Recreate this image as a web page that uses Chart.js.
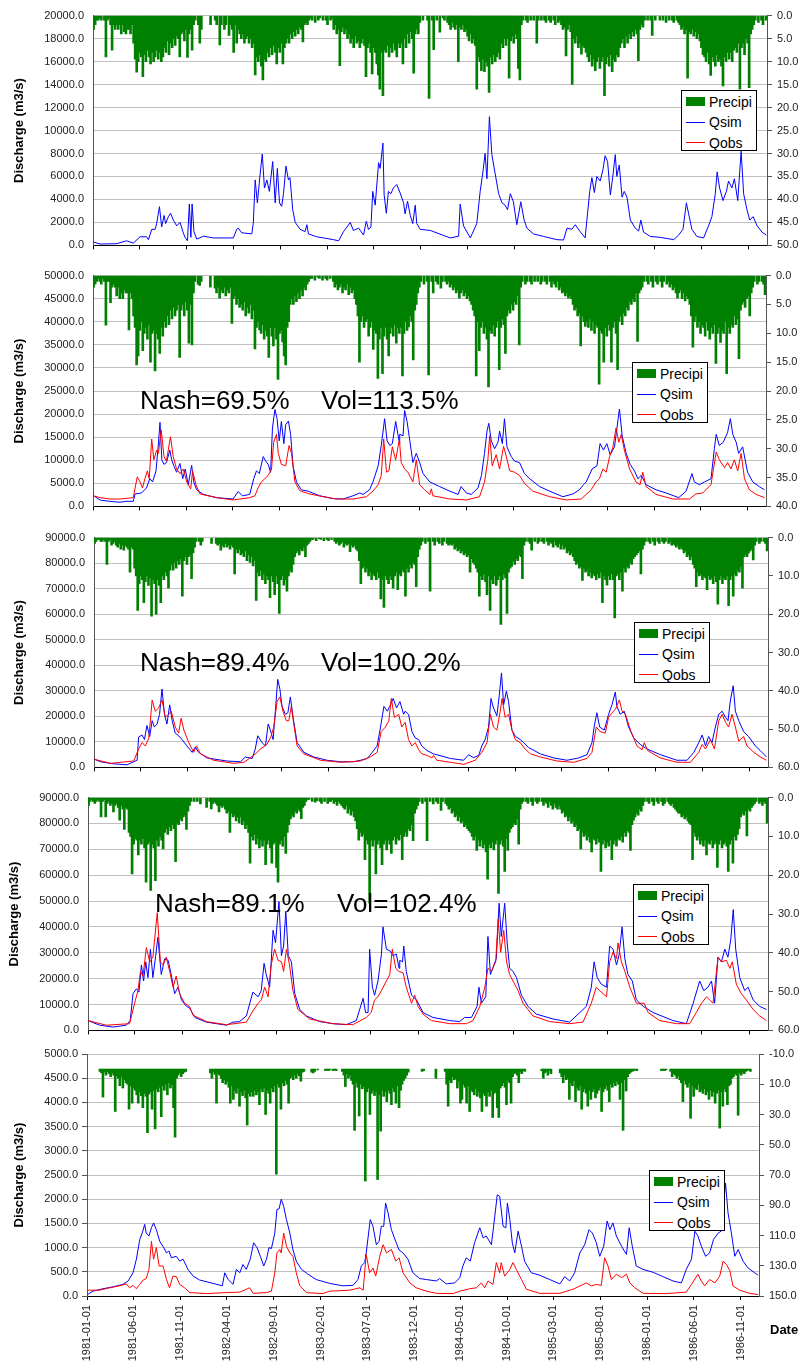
<!DOCTYPE html>
<html><head><meta charset="utf-8">
<script src="https://cdn.jsdelivr.net/npm/chart.js@4.4.1/dist/chart.umd.min.js"></script>
<style>
html,body{margin:0;padding:0;background:#fff;overflow:hidden;width:799px;height:1367px;}
body{position:relative;font-family:"Liberation Sans",Arial,sans-serif;}
.panel{position:absolute;left:0;width:799px;overflow:hidden;background:#fff;}
.panel canvas{position:absolute;left:0;}
.note{position:absolute;font-size:26px;line-height:26px;color:#000;white-space:nowrap;z-index:10;}
.lg{position:absolute;width:76px;height:61px;box-sizing:border-box;border:1px solid #000;background:#fff;z-index:10;}
.lg .row{position:absolute;left:0;width:74px;height:16px;line-height:16px;font-size:14px;color:#000;white-space:nowrap;}
.lg .sym{position:absolute;left:4px;width:19px;}
.lg .txt{position:absolute;left:27px;top:0;}
#date{position:absolute;left:770px;top:1322px;font-weight:bold;font-size:13px;line-height:15px;color:#000;z-index:10;}
</style></head>
<body>
<div class="panel" style="top:0;height:256px"><canvas id="c1" width="830" height="261" style="top:0"></canvas></div>
<div class="panel" style="top:256px;height:261px"><canvas id="c2" width="830" height="262" style="top:4px"></canvas></div>
<div class="panel" style="top:517px;height:260px"><canvas id="c3" width="830" height="261" style="top:5px"></canvas></div>
<div class="panel" style="top:777px;height:260px"><canvas id="c4" width="830" height="264" style="top:5px"></canvas></div>
<div class="panel" style="top:1037px;height:330px"><canvas id="c5" width="830" height="325" style="top:5px"></canvas></div>
<div id="notes"></div>
<div id="date">Date</div>
<script>
// ---------- DATA ----------
const tickLabels = ['1981-01-01','1981-06-01','1981-11-01','1982-04-01','1982-09-01','1983-02-01','1983-07-01','1983-12-01','1984-05-01','1984-10-01','1985-03-01','1985-08-01','1986-01-01','1986-06-01','1986-11-01'];
const rainStepDays = 5; // precipitation read in 5-day bins starting 1981-01-01

// Precipitation (mm), one value per 5-day bin
const p1Rain = [
3,2,1,1,0.5,1,0,1,9,1,0.5,2,7.5,2,3,2,3,2,4,2,3.5,4,3,3,4,2,
6,9.5,12.3,10,8,9,13.3,8.5,10,7.5,9,10.5,8,10,9,7.5,9.5,8,10,9,7,8,5.5,8.5,6,7,5,6.5,4.5,5,9,4,3.5,5.5,3,9.1,4,3,7.5,2,1,
0,2,6,3,0,0,0,0,0,2,0,0,1,2,0,6.4,2,0,3,2,0,4.3,2,3,8,2,6,3,4,
5,4,6,5,4.5,6,5,7,6,12.9,9,10,8.5,11,14,9.5,10,8,9,7,8.5,6.5,8,10.5,7,8,6,10.5,7,6,5,6,4,5,3.5,4.5,3,4,2.5,3,5.7,2,1.5,2,1,0.5,
1,0,1.5,0,1,0.5,0,1,0,1,2,0,1,0.5,
3,2,4,3,10.9,3.5,2.5,4,3,5,4,6,5,7,4.5,6,5.5,7,6,5,6.5,13.3,7,6,8,12.7,7,8,10.5,12.9,16,8,17.4,7.5,8,6.5,9,7,8,6,7.5,9,6,7,6,10.5,5,7,4,6,3.5,5,12.5,4,3,4,1.5,
0,1,0,0,1,18,0,1,7.4,0,1,0,3.6,0,0.5,1,0,1.5,
2,3,1.5,2.5,3,2,10,2.5,3,2,3.5,3,4.5,5.5,4,6,5,6.5,16,9,10,12,9.5,12.2,10,11,16.7,9,10.5,8.5,10,9,8,9.5,6,7,5,6.5,5,13.6,5.5,4.5,6,4,5,11.5,14,2,
1,0,1,1.5,0,1,0,1,0,6,1,0,1,0,1,1.5,0,1,1.5,0,1,2,0,1.5,1,
2,3,2.5,8.8,3,2,3.5,15,5,6,4.5,7,6,8.4,6.5,7,8,9,10,8.5,11,9.5,12,10,9,11.5,10,9,17.4,10.5,9,11,8.5,12.2,9.5,10,8.5,9,7,6,5,7,4.5,6,4,5,3.5,4.5,3,4,9.8,3,2,2.5,1,
0,1,0,1,4.3,0,1,0,0,1,0,1,0,1.5,0,1,0,1,1.5,0,1,1.5,
2,3,2.5,4,3,13.6,3.5,4,3,4.5,3.5,5,4,5.5,7,8.5,9,10,8,10.5,13,9,10,11,8.5,10,9.5,11,15.3,9,10,8,9.5,8,10,7.5,7,8,6,16,7,6,8.5,5,6,15.7,4,3,2,
1,0,1.5,0,1,2,0,1];
const p2Rain = [
2,1.5,1,0.5,1,1.5,0.5,1,8.6,1,1,4.7,2,1.5,2,3.5,2,4,3,4,2.5,3,3,9.4,3,4,
7,9,15.5,13.9,9.5,8,13,10,9,11,8.5,15,10,9.5,16.5,10,11,13.5,9,10.5,8,9,7,8.5,6,7.5,5.5,7,6,5,14.2,6,5,7,4.5,6,11.7,5,12,3,1,
0,1.5,1.7,1,0,0,0,0,0,2,0,0,2.2,3,2,3.9,2.5,3,2,3.5,2.5,3,2,8.3,4,3.5,5,4,5.5,
5,6,4.5,7,5.5,6.5,5,7.5,6,12.7,9,8,9.4,10,8.5,11,9.5,10.5,14.2,9,10.5,12.2,9,11,18,10,9.5,11.5,13.9,15.5,9,8,5,4,5,3.5,4.5,3,4,2.5,3.5,2,2.5,1.5,1,0.5,
0.5,0,0.8,0,0.3,0.5,0,0.8,0,0.5,0.8,0,0.5,0,
1,2,1.5,2.5,2,1.5,3,2,2.5,1.5,3.3,2,3,2.5,4,5,7,15,8,7,9,8,7.5,10.5,9,8,12.8,9.5,10,17.8,11,9,17,10.5,9,11,13.9,10,9,10.5,8.5,11.7,9,10,9,17.4,10,8,9.5,8.9,7,8,14.6,6,5,3,2,
1,0,1.5,0,1,17.2,0,1,3,0,1,1.5,0,2.2,1,0,1,1.5,
1,2,1.5,2.5,2,3,2.5,3.9,3,2.5,3.5,3,4,3.5,4.4,5,6,7,17.4,8,13,9,8,10,9,11,19.3,9.5,10,8.5,10.5,9,8,16.3,9,7.5,8.5,13.5,7,6,6.5,5,6,4.5,5,3.5,12,2,
1,0,1.5,1,0,1,1.5,0,1,0,1,0,1.5,1,0,1,1.5,0,1,2,1,1.5,2,1,2.5,
2,3,2.8,3.5,3,3.9,3.5,4,5,6,5.5,7,6.5,12.2,7,8,8.8,8,9,7.5,9.5,8,10,8.5,9,18.8,9.5,10,15,9,10.5,8.5,9.5,15,9,8,10,16.3,8,7,8.5,6.5,7,5.5,6,4.5,5,4,4.5,3,11.4,3,2.5,2,1,
0,1,1.5,0,1,2,0,1,1.5,0,1,2,1,0,1.5,1,2,1.5,2.5,2,3,3.9,
3,2.5,4,3,4.4,3.5,4,5,7,12.4,8,7,9,8,10,8.5,9,10.5,8,9.5,11,9,10,8.5,15.2,10,9,11.6,9.5,10,8,17,9,10,8.5,9,7,8.5,7.5,14.4,6,5,4.5,5.5,4,3.5,7,3,2,
1,0,1.5,1,0,1,1.5,3.3];
const p3Rain = [
1.5,1,0.5,0.5,1,1,0.5,1,7,1,0.5,2,1.5,1,2,2.5,1.5,3,2,3.3,2,2.5,3,9,2.5,3,
8,10,19,12,10,11,17,11.5,10,12.5,10.5,20.5,11,12,20,11,12.5,17,10,11,9,10,13.2,8.5,7,8.5,6.5,8,6,7,5.5,15.3,6,5,7,5,4.5,10.7,4,2.5,1,
0,1,2,1,0,0,0,0,0,1.5,0,0,1.5,2,1.5,3.3,2,2.5,1.5,2.5,2,3,2,2.5,9.5,3,4,3,4.5,
4,5,3.5,6,4.5,6.5,5,7.4,6,16.4,9,10,8.5,11,9.5,12,10,11,15.7,10,11.5,14.9,10,12,19.8,11,10,12.4,11,14,10,8.5,9,7,5,4,3.5,4.5,3,3.5,2.5,5,2,1.5,1,0.5,
0.5,0,0.8,0,0.3,0.5,0,0.8,0,0.5,0.8,0,0.5,0,
1,1.5,1,2,1.5,1,2.5,1.5,2,1.5,3.7,2,2.5,2,3,3.5,6,12,8,7.5,9,8,10,9,11,9.5,10,11,9,10.5,16,11,18.2,10,11,12,10,11,13.2,10,9,13.6,9.5,10,8.5,9,15.3,8,9,7,8,6.5,7,12.8,5,3,2,
1,0,1.5,0,1,14,0,1,2,0,1,1.5,0,2,1,0,1.5,2,
1.5,2,1.5,3,2.5,3.5,3,4,3.5,4.5,4,5,4.5,9,5.5,6.5,7,8,9,15.3,10,11,9.5,11.5,14.9,10,19,11,12,10,12.5,11,10,22.7,11,9.5,10.5,19.8,9,8,7.5,6,7,5.5,6,4.5,5,10.7,
2,1,0,1,1.5,3.3,0,1,0,1.5,1,0,1,1.5,0,1,2,1,1.5,2.5,1,2,2.5,1.5,3,
2,3,2.5,4,3.5,4.5,4,5,6,7,6.5,8,7.5,11.2,8,9,8.5,10,9,10.5,9.5,10,11,9.5,10.5,9,17,10,11,12.4,10,11,9.5,11,21,10,9.5,11,9,14,8,9,7.5,8,6.5,7,5.5,5,4.5,4,3.5,9.5,3,2,1,
0,1,1.5,0,1,2,0,1,1.5,0,1,1.5,1,0,1.5,1,2,1.5,2,2.5,2,3,
2.5,3,4,3.5,5,4.5,5.8,5,7,8,12.8,9,10,9.5,11,10,10.5,13.6,10,11,10.5,12,10,11.5,17.4,11,10,12,10.5,11,10,17.8,11,10,15.3,9.5,10,8.5,9,7.5,13.2,5,4.5,5,4,3.5,3,5.8,2,
1,0,1.5,1,0,1,1.5,3.5];
const p4Rain = [
2,1,0.5,1,1.5,1,0.5,1,5,1,0.5,5,1.5,1,2,1.5,3.7,2,1.5,2.5,5.8,2,3,8.2,2.5,3,
9,10,19.7,12,10.5,11,14.8,11,12,10.5,13,21.8,12,11.5,23.9,12,13,21.4,11,12.5,10,11,13.2,9,8,9.5,7.5,8.5,7,8,16.5,6.5,7,5.5,6,5,4.5,8.2,3.5,2,1,
0,1,0,1,0,1.6,0,0,0,2.5,0,1,2.9,1.5,1,1.5,2,3.7,2,2.5,2,3,4,3.5,9,4,5,4.5,6,
5,6.5,5,7,6,8,7,9,16.9,10,11,9.5,12,10.5,13,11,12.5,11,17.3,12,11,13,16.9,12,11.5,18,21.8,12,11,12.5,10,14.4,9,7,5.5,4.5,5,3.5,4,3,3.5,5.4,2.5,2,1,0.5,
0.5,0,1,0,1.2,0.8,0,1,1.5,0,1,0,1.5,1,
1,0.5,1.5,1,2,1,1.5,2,2.5,3,2,4,3,4.5,3.5,5,6,8,11,9,10,9.5,16,11,12,27.2,11,12.5,11,19.7,12,11,13,17.3,12,11,13.5,11,12,14.4,11,10,12,10.5,11,9.5,16,10,9,10,8,8.5,7,11.1,4,3,2,
1,0,1.5,0,1,11.1,0,1,0,1.6,0,1,1.5,0,3.3,1,0,1.5,
2,3,2.5,4,3.5,5,4.5,6,5,6.5,6,7.5,7,8,8.5,9,10,11,10,13.6,11,12.5,11,13,12,14,21,12,13,11.5,13.5,12,11,24.7,12,11,12.5,19,10.5,13.6,9,8,7.5,6.5,7,5.5,12,3,
1.5,1,0,1,1.5,0,1,2,0,1,1.5,1,0,1,2,1,1.5,2.5,1,2,3,1.5,2.5,3,2,
3,4,3.5,5,4.5,6,5,6.6,6,7.5,7,8.5,8,13.2,9,10,9.5,11,10,11.5,14,10.5,11,12,10.5,11.5,19,12,11,13,11.5,12.5,11,16,12,11,12.5,10.5,11,10,11.5,9,10,8.5,9,13.6,7,5.8,5,4,4.5,3,3.5,2,1,
0,1,1.5,0,1,2,0,1,1.5,0,1,2,1.5,0,1,1.5,2,1.5,2.5,3,3.5,4,
4,5,4.5,5.5,5,6,6.6,7,16,9,10,11,10,12,11,12.5,11,14.8,11.5,12,11,13,12,11.5,18,12,11,13,12,11.5,12.5,19,12,11,16.9,10,11,9.5,8,5,4,4.5,3.5,9.9,3,3.5,2.5,2,1.5,
1,0,1.5,1,2,1,1.5,6.6];
const p5Rain = [
0,0,0,0,0,0,0,0,1.5,2.5,18.5,2,4,1.5,3,5,2.5,4,28,4.5,6,11,5,12.5,7,9,
10,26.5,11,22.5,12.5,14,17,22.5,15,17.5,25.5,16,18,42,16.5,15,26.5,14,39.5,13,15,12,31.5,11,14,10,17,9,12.5,10,25.5,45,6,4,2.5,5,3,2,1.5,0,0,
0,0,0,0,0,0,0,0,0,0,0,0,0,2.5,6,2,3.5,22.5,3,4,6,9,7,10,8,12,22.5,11,20,
14,16,12.5,24.5,15,17.5,14,19,37,16,18,15,18,14,17,15,23.5,13,15,12,30,14,16,22.5,12.5,15,11,69.5,10,12,26.5,9,11,7.5,10,22.5,6,5,7,4,6,3,4.5,8,2,1.5,
0,0,0,0,2,2.5,1.5,0,0.5,0,0,0,0,1,
0.5,1,0.5,0,1,0.5,1,0,0,0,1.5,4,11.5,3,6,4,7.5,10,40.5,9,12,31,10,13,11.5,74,15,12.5,30,16,14,17.5,15,73,17,41,14,18,15,21.5,14,16,23.5,12.5,15,22.5,11,25.5,14,10,7.5,6,4,2,0,0,0,
0,0,0,0,0,1.5,1,0,0,0,0,0,0,0,6,0,0,0,
0,0,1.5,10,24.5,7.5,9,5,7,6,12.5,8,22.5,20,10,12,22.5,11,28,14,15,17,13,18,15,19,28,16,17.5,24.5,15,18,14,32,16,15,25.5,32,12.5,11,9,12,23.5,7.5,9,22.5,5,3,
2.5,4,9,2,3,1,1.5,0,0,0,0,0,0,0,0,0,0,1,6,2.5,1.5,4,1,3,0,
0,0,0,0,2.5,5,9,4,7,6,20,9,11,7.5,21.5,12,14,11,26.5,15,13,16,24.5,14,20,15,13,19,16,14,12,28,15,13,11,14,21.5,10,12,9,11,8,10,20,9,40.5,7,14.5,5,3,2,1.5,1,0.5,1,
0,0,0,0,0,0,0,0,0,0,0,0,0,0,0,1,0.5,1,0.5,0,0,1.5,
5,3,4,6,4.5,7,9,21.5,7.5,10,12,9,32.5,11,18,12.5,13.5,10,15,14,16,13,17,15,20,14,18,15,22.5,16,14,39,15,24.5,13,15,23.5,11,10,6,5,3,4,30.5,2.5,4,2,3,1.5,
1,0.5,1.5,0,0,0,0,0];

// Discharge (m3/s): [day since 1981-01-01, value]
const p1Qsim = [[1,300],[23,120],[77,150],[109,400],[131,200],[153,750],[174,750],[180,500],[191,1400],[202,1400],[207,1930],[216,3370],[223,1600],[231,2600],[236,1900],[245,2500],[252,2800],[261,2200],[272,1700],[283,2000],[292,1200],[299,700],[307,400],[313,3600],[318,700],[322,3600],[328,1200],[337,550],[359,800],[391,650],[456,650],[467,1400],[472,1500],[483,1100],[516,1000],[521,2000],[527,5700],[534,3700],[543,6200],[550,7950],[557,5000],[565,5700],[573,4700],[584,7300],[592,3700],[599,6700],[606,3700],[613,3400],[619,4500],[627,6900],[635,5700],[640,5900],[649,3100],[657,2000],[673,1400],[689,1200],[695,1800],[700,1000],[727,750],[781,500],[798,400],[814,1200],[836,2000],[846,1300],[863,1500],[879,900],[888,2100],[895,1400],[903,1600],[909,4700],[917,3500],[928,7200],[933,6700],[942,8900],[946,4400],[953,2800],[960,4700],[968,4500],[976,5000],[987,5300],[998,4560],[1009,3720],[1014,2750],[1022,3840],[1031,2600],[1039,1900],[1047,3500],[1052,1900],[1063,1400],[1096,1300],[1161,650],[1188,800],[1193,3600],[1204,1700],[1226,650],[1247,1900],[1258,4700],[1267,6400],[1274,8000],[1280,5800],[1288,11200],[1296,7900],[1307,6200],[1318,4500],[1329,3700],[1339,3500],[1347,3100],[1356,4500],[1366,3800],[1377,1800],[1390,3800],[1401,2200],[1410,1500],[1431,1000],[1464,780],[1507,500],[1529,470],[1540,1500],[1556,1400],[1567,1800],[1583,1200],[1599,650],[1614,4700],[1621,5900],[1629,4600],[1637,6000],[1648,5600],[1657,6600],[1664,7800],[1672,7300],[1681,4400],[1689,6000],[1697,7900],[1702,6000],[1710,7000],[1719,4200],[1726,4700],[1735,4200],[1746,2200],[1762,1500],[1773,1250],[1780,2200],[1789,1150],[1811,780],[1843,700],[1887,500],[1903,900],[1917,1400],[1928,3700],[1935,2800],[1946,1400],[1962,780],[1984,650],[2000,1700],[2011,2500],[2022,4500],[2028,6400],[2036,5000],[2047,3900],[2058,4700],[2065,5600],[2076,5000],[2084,5800],[2095,3900],[2106,8200],[2114,4500],[2125,3100],[2134,2200],[2145,2500],[2158,1700],[2174,1150],[2188,900]];

const p2Qsim = [[3,2260],[23,1370],[55,1100],[88,900],[109,1100],[131,1100],[137,2700],[158,2900],[174,4000],[185,6000],[194,5300],[205,7700],[212,12900],[218,18200],[224,10100],[231,9100],[239,9500],[250,12200],[256,10100],[263,8800],[272,7400],[283,9300],[292,6000],[300,8100],[310,4700],[321,8900],[328,5300],[337,3600],[359,2600],[402,1900],[456,1600],[472,3200],[487,2300],[510,2600],[523,6000],[532,7700],[541,7100],[554,10800],[562,9800],[570,9100],[578,7400],[584,17000],[592,21000],[599,19000],[606,14200],[613,18400],[621,13600],[627,17700],[636,18500],[643,15600],[651,8800],[662,5300],[678,3600],[700,3300],[738,2300],[781,1700],[814,1600],[846,2300],[868,2900],[879,2600],[900,3600],[911,5300],[928,8800],[938,13200],[949,19000],[957,14200],[966,13200],[974,13600],[985,18400],[996,14200],[998,15600],[1009,15300],[1014,20800],[1022,18400],[1031,14200],[1041,9500],[1052,11500],[1063,9500],[1074,7100],[1096,5300],[1128,4300],[1161,3300],[1188,2600],[1198,4300],[1215,2900],[1231,2600],[1253,4000],[1264,6700],[1274,11500],[1282,16300],[1288,18000],[1296,14200],[1307,12500],[1318,13900],[1323,16300],[1332,13600],[1339,19000],[1347,12900],[1361,10800],[1372,9800],[1388,9500],[1404,7100],[1421,6000],[1453,4300],[1486,3300],[1529,2100],[1562,2700],[1583,3600],[1596,4700],[1605,5300],[1624,8100],[1640,8800],[1650,13600],[1661,12200],[1672,13600],[1683,11200],[1697,12900],[1705,17000],[1713,21100],[1722,15300],[1735,11500],[1748,9100],[1762,7700],[1773,6000],[1784,6700],[1800,4700],[1832,3600],[1865,2900],[1906,1900],[1930,3300],[1949,7100],[1957,5300],[1973,4700],[1990,5300],[2011,6000],[2022,12500],[2028,15600],[2038,13200],[2051,13900],[2065,16000],[2074,19000],[2082,15600],[2093,13900],[2101,11500],[2114,12900],[2130,7400],[2147,5300],[2168,4300],[2185,3600]];
const p2Qobs = [[3,2260],[23,1900],[55,1600],[88,1600],[131,1900],[144,6400],[153,5300],[161,4000],[169,6000],[177,7700],[183,6000],[191,14600],[198,10100],[207,12200],[213,11500],[222,16600],[231,10800],[239,9800],[252,15100],[261,10800],[272,8100],[283,7100],[294,8100],[305,5300],[318,3800],[324,7700],[335,4700],[348,2700],[402,1900],[456,1400],[510,1900],[527,2300],[537,4000],[548,5300],[559,6000],[570,6700],[581,8100],[588,13900],[597,15600],[603,11500],[613,9100],[627,8800],[638,13200],[646,11500],[657,5300],[673,3400],[705,2700],[749,2100],[792,1600],[846,1600],[890,2100],[911,3300],[928,4700],[938,6700],[946,14600],[955,7400],[963,7700],[974,12900],[985,10100],[996,14200],[998,13600],[1003,9500],[1014,8100],[1025,7400],[1041,5300],[1052,10100],[1063,4700],[1079,3600],[1096,2600],[1101,3800],[1106,2300],[1161,1600],[1215,1400],[1258,2100],[1274,5300],[1285,10100],[1291,15300],[1299,8800],[1312,11200],[1323,8100],[1336,13000],[1345,10800],[1356,7700],[1372,7400],[1388,6700],[1404,5000],[1431,3300],[1486,2100],[1540,1400],[1589,1600],[1605,2600],[1621,3600],[1637,5300],[1648,6000],[1659,8100],[1670,7400],[1681,10800],[1692,12900],[1702,17000],[1711,13900],[1719,15600],[1729,12200],[1746,8100],[1767,5300],[1780,4700],[1789,7400],[1800,4300],[1832,2600],[1887,1600],[1941,1600],[1962,2700],[1984,2900],[2011,4700],[2028,11800],[2038,10100],[2055,8400],[2065,9500],[2076,8100],[2087,10100],[2098,7700],[2109,11500],[2120,6000],[2136,3600],[2158,2600],[2185,1900]];

const p3Qsim = [[1,3200],[21,2200],[64,1400],[107,1000],[129,2200],[140,2800],[145,11900],[156,12700],[164,10900],[172,16400],[181,12100],[189,18300],[196,15800],[205,17000],[213,20800],[221,30700],[229,20800],[237,17000],[246,24500],[254,18300],[264,13400],[275,12400],[286,10900],[302,8400],[319,5900],[329,8000],[340,5900],[367,3700],[432,2500],[476,2200],[492,4100],[514,3500],[524,7200],[532,12400],[546,9700],[557,8400],[566,17000],[573,14600],[582,10900],[590,23300],[597,34500],[604,30700],[611,23900],[622,20800],[630,21400],[638,27600],[647,19600],[660,9700],[682,5900],[714,4100],[757,2800],[801,2200],[844,2200],[866,2800],[888,3500],[904,5900],[920,8400],[931,15800],[942,23900],[953,22000],[961,23900],[972,27000],[983,23300],[994,25800],[1006,20800],[1011,22000],[1022,20800],[1033,14000],[1044,11500],[1055,10900],[1065,8400],[1082,6600],[1103,5300],[1158,3500],[1201,2800],[1217,5000],[1233,3800],[1250,4700],[1260,8400],[1271,10900],[1282,15800],[1290,27000],[1298,23300],[1309,20200],[1317,28300],[1324,37000],[1331,24500],[1340,29900],[1347,25800],[1358,14600],[1369,12200],[1385,10900],[1396,9700],[1412,7800],[1450,5300],[1494,3700],[1537,2800],[1575,3700],[1602,5000],[1618,9700],[1626,16500],[1634,21400],[1643,15800],[1658,14600],[1672,20800],[1683,24500],[1694,29500],[1699,23900],[1710,20800],[1723,22000],[1737,15800],[1754,11500],[1775,9000],[1797,7200],[1840,5000],[1894,2800],[1927,2800],[1949,5900],[1965,9700],[1976,12700],[1987,8400],[1997,12100],[2008,9700],[2019,15800],[2030,20800],[2041,22000],[2052,19600],[2060,18300],[2068,26400],[2077,32000],[2084,22000],[2095,18300],[2111,14000],[2127,12100],[2149,8400],[2165,6600],[2185,4100]];
const p3Qobs = [[1,3200],[53,1600],[129,2500],[145,7200],[156,9700],[167,8400],[178,11500],[189,26400],[199,22000],[210,23300],[221,26400],[232,19600],[243,20800],[251,22000],[264,15800],[275,13400],[283,19300],[292,14600],[308,9700],[324,5900],[333,8400],[346,5300],[389,2800],[454,1600],[487,2000],[519,4700],[541,7200],[562,9000],[575,12100],[584,15800],[595,25800],[604,27600],[614,22000],[625,18300],[633,18300],[641,23900],[649,17000],[660,8400],[682,5300],[736,2800],[801,2000],[866,2500],[898,4100],[920,5900],[933,14000],[947,15800],[958,18300],[966,27000],[976,19600],[990,20800],[1000,15800],[1011,17700],[1022,10900],[1033,8400],[1044,9700],[1055,6900],[1065,5300],[1082,4700],[1098,3700],[1103,4700],[1114,2800],[1158,2000],[1201,1200],[1239,2800],[1260,5900],[1277,9700],[1288,20800],[1298,15800],[1309,14600],[1320,22000],[1326,27000],[1336,19600],[1347,20800],[1358,14600],[1369,10900],[1385,9700],[1401,7200],[1418,5300],[1450,4100],[1504,2500],[1559,2000],[1602,3500],[1618,5900],[1632,15800],[1645,14000],[1661,13400],[1672,19600],[1683,21400],[1694,22700],[1707,26400],[1716,22000],[1727,20800],[1743,14600],[1764,8400],[1781,6900],[1788,9700],[1799,6600],[1840,3700],[1894,2000],[1938,2000],[1965,5900],[1976,9000],[1987,7200],[2003,10900],[2016,7200],[2030,18300],[2041,20800],[2052,17700],[2062,15800],[2073,20800],[2084,15800],[2095,10300],[2111,12100],[2122,8400],[2144,5900],[2165,4100],[2185,2800]];

const p4Qsim = [[0,3800],[38,2000],[81,1300],[123,2000],[136,3800],[145,14200],[156,16100],[164,14800],[172,25300],[179,19100],[186,26500],[193,20400],[201,31400],[209,20400],[218,28900],[225,36000],[236,21600],[247,27700],[258,27100],[268,21600],[279,14200],[290,16700],[301,11800],[317,9300],[327,8700],[344,5000],[381,3200],[446,2000],[467,3200],[488,3400],[510,5600],[531,14800],[548,13000],[558,15400],[567,25900],[574,21600],[585,16700],[596,38700],[604,33800],[615,49800],[623,28900],[630,32600],[637,46100],[645,28900],[655,26500],[666,14200],[682,8100],[703,5600],[746,3400],[789,2600],[832,2200],[864,3800],[886,12400],[894,6900],[902,6900],[907,31400],[916,16700],[923,13600],[934,19100],[945,29500],[950,40000],[961,31400],[972,30800],[982,28900],[993,29500],[1002,24000],[1004,27100],[1013,26500],[1017,32600],[1025,22800],[1042,13600],[1058,11800],[1079,6900],[1111,5000],[1165,3800],[1197,3400],[1213,5000],[1235,5000],[1253,9300],[1259,16700],[1267,10500],[1281,13000],[1288,36300],[1296,21600],[1305,24600],[1315,27700],[1324,49200],[1331,36300],[1342,49200],[1350,33800],[1358,24000],[1369,22800],[1380,20400],[1396,13600],[1417,9300],[1444,6300],[1498,4400],[1551,3200],[1584,6900],[1605,9300],[1621,16700],[1630,26500],[1640,20400],[1653,17900],[1670,16700],[1680,32600],[1691,31400],[1702,25300],[1710,28900],[1720,40000],[1729,27700],[1739,21600],[1753,19100],[1766,11800],[1788,9300],[1820,6900],[1884,3800],[1927,2600],[1949,10500],[1970,19100],[1983,15400],[1997,16700],[2008,19100],[2018,10500],[2029,28300],[2040,26500],[2051,31400],[2061,28300],[2070,35000],[2078,46700],[2086,31400],[2099,20400],[2115,15400],[2126,16700],[2142,11800],[2163,9300],[2185,8100]];
const p4Qobs = [[0,3800],[59,2000],[134,2600],[150,10500],[161,15400],[169,22800],[177,21000],[188,32000],[199,26500],[209,28300],[223,45500],[233,26500],[242,25300],[252,28300],[263,22800],[274,16700],[284,21000],[295,14200],[311,10500],[327,9300],[338,5900],[381,3400],[446,2200],[510,3200],[531,7500],[548,10500],[558,11800],[569,16700],[580,13000],[590,25300],[601,31400],[612,27100],[623,26500],[630,22800],[639,31400],[649,25300],[660,15400],[676,8100],[714,4400],[789,2600],[853,2200],[896,5000],[912,6900],[923,11800],[934,13000],[945,15400],[961,19100],[972,21600],[980,31400],[991,24000],[1002,22800],[1004,22800],[1015,22200],[1025,16700],[1042,10500],[1052,13600],[1063,9300],[1079,6300],[1106,3800],[1165,2600],[1219,2600],[1240,3800],[1262,9300],[1278,16700],[1288,24000],[1299,22800],[1313,26500],[1321,43000],[1329,30200],[1339,38700],[1348,26500],[1358,21600],[1374,17900],[1385,15400],[1401,10500],[1433,5600],[1487,3400],[1551,2600],[1594,3200],[1621,10500],[1637,16700],[1653,14800],[1670,13000],[1680,26500],[1691,30200],[1702,27700],[1707,33800],[1718,26500],[1729,22800],[1745,16700],[1766,10500],[1791,10500],[1804,6900],[1841,3800],[1895,2600],[1938,2600],[1959,6900],[1976,10500],[1992,13000],[2002,11800],[2013,10500],[2029,28300],[2040,26500],[2056,27100],[2067,24000],[2075,26500],[2088,17900],[2104,14200],[2120,11800],[2142,8100],[2163,5600],[2185,3800]];

const p5Qsim = [[1,30],[20,100],[52,150],[85,190],[117,240],[134,310],[150,480],[161,760],[172,1170],[180,1300],[188,1480],[193,1300],[202,1240],[210,1410],[217,1510],[226,1370],[237,1130],[250,1000],[259,890],[267,930],[275,790],[291,820],[302,720],[313,760],[329,550],[346,410],[367,330],[411,260],[441,210],[449,480],[460,340],[476,240],[487,550],[498,480],[508,650],[519,550],[532,760],[543,1100],[554,1000],[565,820],[576,620],[585,760],[593,1000],[601,980],[612,1300],[619,1790],[626,1800],[633,2000],[641,1850],[650,1580],[661,1300],[671,960],[682,720],[699,550],[720,450],[747,340],[791,260],[834,210],[867,220],[883,340],[894,620],[905,690],[910,890],[923,1580],[932,1440],[943,1060],[952,1130],[959,1440],[967,1440],[973,1920],[981,1720],[992,1370],[1006,1130],[1017,950],[1030,890],[1046,760],[1062,480],[1084,360],[1106,340],[1139,310],[1149,360],[1171,250],[1198,270],[1215,380],[1225,620],[1236,790],[1249,720],[1263,1100],[1280,1410],[1291,1200],[1301,1240],[1318,1060],[1329,1650],[1337,2090],[1345,2060],[1356,1440],[1365,1410],[1370,1920],[1378,1580],[1386,1100],[1394,890],[1405,1340],[1416,1030],[1426,720],[1448,480],[1475,430],[1508,340],[1541,250],[1557,400],[1573,310],[1589,480],[1606,890],[1622,1060],[1636,1370],[1647,1300],[1660,1100],[1671,820],[1684,1030],[1695,1550],[1704,1370],[1714,1510],[1725,1240],[1742,1030],[1758,860],[1767,1410],[1777,1030],[1790,620],[1812,550],[1845,490],[1877,400],[1910,310],[1937,270],[1953,550],[1970,760],[1981,1340],[1991,1240],[2002,1030],[2016,820],[2029,890],[2042,1170],[2057,1300],[2067,1340],[2081,2330],[2089,1720],[2100,1300],[2111,820],[2122,960],[2138,720],[2154,580],[2176,480],[2187,430]];
const p5Qobs = [[1,120],[41,120],[74,170],[106,210],[128,250],[139,170],[150,220],[161,150],[172,240],[183,330],[193,360],[202,550],[210,1130],[217,760],[226,1000],[235,620],[248,620],[259,340],[269,170],[280,410],[291,400],[302,240],[318,170],[335,70],[389,50],[454,70],[498,80],[530,170],[541,55],[585,70],[601,100],[612,480],[619,890],[628,960],[633,890],[641,1300],[650,1030],[661,890],[671,820],[682,480],[693,220],[715,70],[769,50],[791,100],[856,120],[889,170],[900,120],[910,860],[921,480],[932,580],[941,410],[954,820],[965,1060],[976,890],[992,960],[1006,720],[1017,790],[1030,480],[1052,270],[1073,170],[1106,100],[1139,55],[1193,50],[1215,100],[1247,150],[1269,170],[1285,270],[1296,170],[1307,310],[1323,240],[1334,690],[1345,480],[1350,690],[1361,410],[1378,550],[1388,690],[1399,550],[1416,340],[1432,140],[1475,55],[1541,55],[1584,140],[1627,270],[1644,210],[1660,240],[1676,220],[1687,790],[1698,620],[1709,340],[1725,450],[1742,380],[1758,450],[1769,270],[1785,170],[1812,55],[1888,50],[1953,80],[1970,240],[1991,450],[2002,310],[2013,210],[2029,340],[2046,270],[2062,410],[2073,720],[2084,650],[2095,520],[2105,210],[2127,120],[2160,55],[2187,30]];

// ---------- RENDER ----------
const FONT = '"Liberation Sans", Arial, sans-serif';
Chart.defaults.font.family = FONT;
Chart.defaults.font.size = 11;
const W = 830;
const dayOf = s => { const [y,m,d] = s.split('-').map(Number); return (Date.UTC(y,m-1,d) - Date.UTC(1981,0,1)) / 86400000; };
const tickDays = tickLabels.map(dayOf);
const pts = arr => arr.map(p => ({x: p[0], y: p[1]}));

const panels = [
  {id:'c1', rain:p1Rain, sim:p1Qsim, obs:null,  yMax:20000, yStep:2000,  pMin:0,   pMax:50,  pStep:5,  left:93, right:767, padB:4, xH:4,  showX:false, titlePad:12, leftTicks:false},
  {id:'c2', rain:p2Rain, sim:p2Qsim, obs:p2Qobs, yMax:50000, yStep:5000, pMin:0,   pMax:40,  pStep:5,  left:93, right:766, padB:4, xH:4,  showX:false, titlePad:12, leftTicks:false},
  {id:'c3', rain:p3Rain, sim:p3Qsim, obs:p3Qobs, yMax:90000, yStep:10000,pMin:0,   pMax:60,  pStep:10, left:94, right:768, padB:4, xH:4,  showX:false, titlePad:12, leftTicks:false},
  {id:'c4', rain:p4Rain, sim:p4Qsim, obs:p4Qobs, yMax:90000, yStep:10000,pMin:0,   pMax:60,  pStep:10, left:88, right:768, padB:4, xH:4,  showX:false, titlePad:7,  leftTicks:false},
  {id:'c5', rain:p5Rain, sim:p5Qsim, obs:p5Qobs, yMax:5000,  yStep:500,  pMin:-10, pMax:150, pStep:20, left:87, right:759, padB:0, xH:71, showX:true,  titlePad:12, leftTicks:true}
];

panels.forEach(cfg => {
  const ds = [];
  if (cfg.obs) ds.push({type:'line', label:'Qobs', data:pts(cfg.obs), borderColor:'#ff0000', borderWidth:1, pointRadius:0, tension:0, yAxisID:'y', order:0});
  ds.push({type:'line', label:'Qsim', data:pts(cfg.sim), borderColor:'#0000ff', borderWidth:1, pointRadius:0, tension:0, yAxisID:'y', order:1});
  ds.push({type:'bar', label:'Precipi', data:cfg.rain.map((v,i) => ({x: i*rainStepDays + 2, y: v > 0 ? v : null})), backgroundColor:'#008000', borderWidth:0, barThickness:2, yAxisID:'yP', order:2});
  new Chart(document.getElementById(cfg.id), {
    type:'bar',
    data:{datasets:ds},
    options:{
      responsive:false, animation:false, events:[], devicePixelRatio:1,
      layout:{padding:{top:12, bottom:cfg.padB, left:0, right:0}},
      plugins:{legend:{display:false}, tooltip:{enabled:false}},
      scales:{
        x:{type:'linear', min:0, max:2190, offset:false,
           afterBuildTicks: s => { s.ticks = tickDays.map(v => ({value:v})); },
           afterFit: s => { s.height = cfg.xH; },
           ticks:{display:cfg.showX, autoSkip:false, minRotation:90, maxRotation:90, padding:5, color:'#222', font:{size:11}, callback:(v,i) => tickLabels[i]},
           grid:{drawOnChartArea:false, drawTicks:true, tickLength:4, color:'#000', offset:false},
           border:{display:true, color:'#000', width:1}},
        y:{position:'left', min:0, max:cfg.yMax,
           afterFit: s => { s.width = cfg.left; },
           ticks:{stepSize:cfg.yStep, color:'#222', font:{size:11}, padding:cfg.leftTicks ? 4 : 9, callback:v => Number(v).toFixed(1)},
           grid:{color:'#c0c0c0', lineWidth:1, drawTicks:cfg.leftTicks, tickLength:5, tickColor:'#555'},
           border:{display:true, color:'#555', width:1},
           title:{display:true, text:'Discharge (m3/s)', color:'#000', font:{size:13, weight:'bold'}, padding:{top:cfg.titlePad, bottom:0}}},
        yP:{position:'right', reverse:true, min:cfg.pMin, max:cfg.pMax,
           afterFit: s => { s.width = W - cfg.right; },
           ticks:{stepSize:cfg.pStep, color:'#222', font:{size:11}, padding:5, callback:v => Number(v).toFixed(1)},
           grid:{drawOnChartArea:false, drawTicks:true, tickLength:5, color:'#555'},
           border:{display:true, color:'#555', width:1}}
      }
    }
  });
});

// ---------- ANNOTATIONS & LEGENDS (HTML text) ----------
const notes = [
  {t:'Nash=69.5%', x:140, y:387}, {t:'Vol=113.5%', x:321, y:387},
  {t:'Nash=89.4%', x:140, y:649}, {t:'Vol=100.2%', x:321, y:649},
  {t:'Nash=89.1%', x:155, y:890}, {t:'Vol=102.4%', x:337, y:890}
];
const legends = [{x:681,y:90},{x:632,y:362},{x:634,y:622},{x:633,y:884},{x:649,y:1170}];
const host = document.getElementById('notes');
notes.forEach(n => { const d = document.createElement('div'); d.className = 'note'; d.style.left = n.x + 'px'; d.style.top = n.y + 'px'; d.textContent = n.t; host.appendChild(d); });
const items = [
  {t:'Precipi', sym:'background:#008000;top:3.5px;height:9px;'},
  {t:'Qsim', sym:'background:#0000ff;top:7.5px;height:1.4px;'},
  {t:'Qobs', sym:'background:#ff0000;top:7.5px;height:1.4px;'}
];
legends.forEach(p => {
  const box = document.createElement('div'); box.className = 'lg'; box.style.left = p.x + 'px'; box.style.top = p.y + 'px';
  items.forEach((it, i) => {
    const row = document.createElement('div'); row.className = 'row'; row.style.top = (2.7 + 20.4*i) + 'px';
    const s = document.createElement('span'); s.className = 'sym'; s.setAttribute('style', it.sym);
    const tx = document.createElement('span'); tx.className = 'txt'; tx.textContent = it.t;
    row.appendChild(s); row.appendChild(tx); box.appendChild(row);
  });
  host.appendChild(box);
});
</script>
</body></html>
